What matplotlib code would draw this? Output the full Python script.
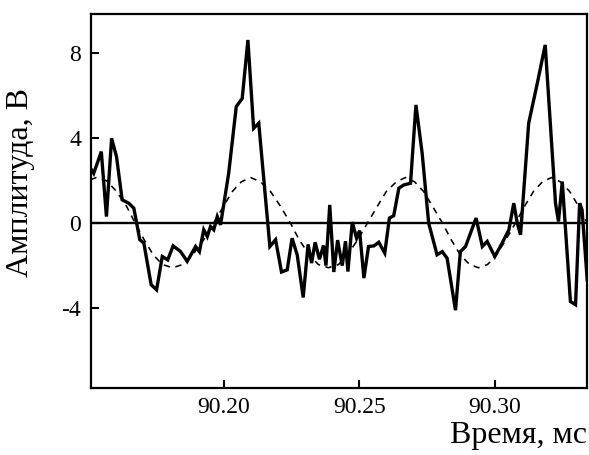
import numpy as np
import matplotlib
matplotlib.use("Agg")
import matplotlib.pyplot as plt

plt.rcParams['font.family'] = ['Liberation Serif', 'DejaVu Serif']

# измеренный сигнал (время, мс / амплитуда, В)
t_sig = [90.1508, 90.1520, 90.1548, 90.1567, 90.1586, 90.1604, 90.1625, 90.1649,
         90.1668, 90.1690, 90.1705, 90.1732, 90.1752, 90.1773, 90.1793, 90.1813,
         90.1840, 90.1865, 90.1896, 90.1910, 90.1926, 90.1939, 90.1951, 90.1963,
         90.1976, 90.1988, 90.2018, 90.2046, 90.2068, 90.2089, 90.2110, 90.2129,
         90.2170, 90.2191, 90.2213, 90.2234, 90.2252, 90.2271, 90.2293, 90.2311,
         90.2324, 90.2337, 90.2353, 90.2368, 90.2377, 90.2391, 90.2406, 90.2420,
         90.2437, 90.2449, 90.2458, 90.2474, 90.2490, 90.2501, 90.2517, 90.2534,
         90.2554, 90.2572, 90.2594, 90.2611, 90.2627, 90.2646, 90.2664, 90.2689,
         90.2709, 90.2732, 90.2756, 90.2787, 90.2806, 90.2824, 90.2855, 90.2873,
         90.2892, 90.2931, 90.2954, 90.2972, 90.3000, 90.3027, 90.3052, 90.3070,
         90.3083, 90.3095, 90.3125, 90.3157, 90.3186, 90.3224, 90.3235, 90.3249,
         90.3279, 90.3298, 90.3313, 90.3322, 90.3341]
u_sig = [2.59, 2.35, 3.37, 0.31, 4.00, 3.14, 1.10, 0.94,
         0.71, -0.78, -0.94, -2.90, -3.14, -1.57, -1.73, -1.07,
         -1.33, -1.80, -1.10, -1.34, -0.31, -0.63, -0.16, -0.31,
         0.31, -0.08, 2.35, 5.49, 5.88, 8.63, 4.47, 4.71,
         -1.10, -0.78, -2.30, -2.20, -0.71, -1.50, -3.50, -1.00,
         -1.88, -0.90, -1.70, -1.05, -2.00, 0.86, -2.30, -0.80,
         -2.00, -0.85, -2.28, 0.05, -0.71, -0.35, -2.59, -1.10,
         -1.07, -0.90, -1.41, 0.24, 0.35, 1.65, 1.80, 1.88,
         5.57, 3.29, 0.00, -1.49, -1.34, -1.65, -4.10, -1.34,
         -1.10, 0.24, -1.10, -0.86, -1.57, -0.94, -0.31, 0.94,
         0.00, -0.55, 4.71, 6.60, 8.40, 0.94, 0.08, 1.96,
         -3.69, -3.84, 0.94, 0.63, -2.67]

# аппроксимация (штриховая)
t_fit = [90.1508, 90.1530, 90.1567, 90.1604, 90.1641, 90.1673, 90.1707, 90.1740,
         90.1774, 90.1811, 90.1848, 90.1885, 90.1925, 90.1962, 90.1999, 90.2032,
         90.2065, 90.2099, 90.2135, 90.2172, 90.2209, 90.2246, 90.2279, 90.2316,
         90.2349, 90.2386, 90.2423, 90.2456, 90.2493, 90.2530, 90.2567, 90.2600,
         90.2637, 90.2670, 90.2704, 90.2737, 90.2770, 90.2807, 90.2840, 90.2873,
         90.2907, 90.2940, 90.2973, 90.3006, 90.3040, 90.3076, 90.3110, 90.3143,
         90.3176, 90.3209, 90.3242, 90.3276, 90.3309, 90.3342]
u_fit = [2.05, 2.15, 2.00, 1.50, 0.80, 0.00, -0.80, -1.50,
         -1.95, -2.10, -1.95, -1.50, -0.80, 0.00, 0.80, 1.50,
         1.95, 2.15, 1.95, 1.50, 0.80, 0.00, -0.80, -1.50,
         -1.95, -2.10, -1.95, -1.50, -0.80, 0.00, 0.80, 1.50,
         1.95, 2.15, 1.95, 1.50, 0.80, 0.00, -0.80, -1.50,
         -1.95, -2.10, -1.95, -1.50, -0.80, 0.00, 0.80, 1.50,
         1.95, 2.15, 1.95, 1.50, 0.80, 0.00]

x_ticks = [90.20, 90.25, 90.30]
x_labels = ['90.20', '90.25', '90.30']
y_ticks = [-4, 0, 4, 8]
y_labels = ['-4', '0', '4', '8']

fig = plt.figure(figsize=(5.89, 4.55), dpi=100)
ax = fig.add_axes([0.1545, 0.148, 0.842, 0.821])

ax.axhline(0, color='black', lw=1.7, zorder=1)
ax.plot(t_fit, u_fit, color='black', lw=1.15, ls=(0, (4, 3.5)), zorder=2)
ax.plot(t_sig, u_sig, color='black', lw=2.4, solid_joinstyle='miter', zorder=3)

ax.set_xlim(90.151, 90.334)
ax.set_ylim(-7.75, 9.85)
ax.set_xticks(x_ticks)
ax.set_xticklabels(x_labels)
ax.set_yticks(y_ticks)
ax.set_yticklabels(y_labels)
ax.tick_params(direction='in', length=6, width=1.5, labelsize=17, pad=7)

for s in ax.spines.values():
    s.set_linewidth(1.6)

ax.set_xlabel('Время, мс', fontsize=23, loc='right', labelpad=2)
ax.set_ylabel('Амплитуда, В', fontsize=23)
ax.yaxis.set_label_coords(-0.112, 0.55)

fig.savefig('out.png', dpi=100)
